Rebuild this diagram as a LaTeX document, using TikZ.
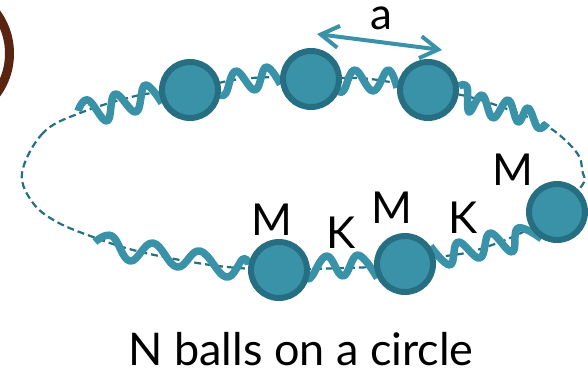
\documentclass[tikz,border=0pt]{standalone}
\usepackage{fontspec}
\setmainfont{Lato}
\usetikzlibrary{arrows.meta,positioning,backgrounds}
\definecolor{ballfill}{HTML}{3A92A9}
\definecolor{balledge}{HTML}{266E82}
\definecolor{ringbrown}{HTML}{5A2412}

\begin{document}
\begin{tikzpicture}[x=1pt, y=-1pt, ball/.style={draw=balledge, fill=ballfill, circle, line width=6pt, minimum size=56pt, inner sep=0pt}, spring/.style={draw=ballfill, line width=7.5pt, line join=round}, lbl/.style={font=\fontsize{44}{46}\selectfont, anchor=base, inner sep=0pt}, loop/.style={draw=balledge, line width=2.2pt, dash pattern=on 7pt off 4pt}]
	\useasboundingbox (0,0) rectangle (588,370);
	\clip (0,0) rectangle (588,370);
	\draw[ringbrown, line width=9pt] (-59,53.5) circle (68.5);
	\foreach \b/\x/\y in {1/190/90,2/311/79,3/428/90,4/557/212,5/405/264,6/279/270} {\node[ball] (b\b) at (\x,\y) {};}
	\coordinate (sA) at (78,111); \coordinate (sB) at (547,123); \coordinate (sC) at (95,242);
	\coordinate (aL) at (317,34); \coordinate (aR) at (442,50);
	\begin{scope}[on background layer]
	\draw[loop] plot[smooth cycle, tension=0.6] coordinates {(80,113) (43,133) (22,173) (33,203) (57,222) (93,237) (133,250) (180,260) (227,267) (b6) (310,269) (373,267) (b5) (440,257) (477,250) (530,228) (580,188) (582,170) (577,153) (553,130) (523,115) (470,97) (b3) (390,82) (357,78) (b2) (277,77) (233,80) (b1) (140,95)};
	% springs, traced from wave to wave
	\draw[spring] plot[smooth, tension=0.7] coordinates {(sA) (88,100) (107,121) (115,94) (136,112) (145,85) (b1.205)};
	\draw[spring] plot[smooth, tension=0.7] coordinates {(b1.-9) (226,93) (236,71) (255,90) (266,67) (b2.190)};
	\draw[spring] plot[smooth, tension=0.7] coordinates {(b2.-24) (344,90) (355,70) (373,91) (388,70) (b3.176)};
	\draw[spring] plot[smooth, tension=0.7] coordinates {(b3.7) (467,87) (469,112) (482,95) (493,118) (508,100) (518,122) (528,108) (538,128) (sB)};
	\draw[spring] plot[smooth, tension=0.7] coordinates {(sC) (112,236) (130,261) (153,243) (177,267) (200,251) (226,277) (243,259) (b6.170)};
	\draw[spring] plot[smooth, tension=0.7] coordinates {(b6.-16) (312,276) (327,256) (343,276) (358,255) (b5.207)};
	\draw[spring] plot[smooth, tension=0.7] coordinates {(b5.35) (450,265) (458,242) (480,258) (490,233) (512,252) (518,228) (b4.240)};
	\end{scope}
	\draw[{Straight Barb[length=18pt,width=22pt]}-{Straight Barb[length=18pt,width=22pt]}, ballfill, line width=4pt] (aL) -- (aR);
	\node[lbl] (la) at (381,29) {a};
	\node[lbl] (m1) at (272,235) {M};
	\node[lbl] (k1) at (341,248) {K};
	\node[lbl] (m2) at (392,223) {M};
	\node[lbl] (k2) at (463,233) {K};
	\node[lbl] (m3) at (513,185) {M};
	\node[lbl, font=\fontsize{45}{48}\selectfont] (cap) at (301,365) {N balls on a circle};
\end{tikzpicture}
\end{document}
